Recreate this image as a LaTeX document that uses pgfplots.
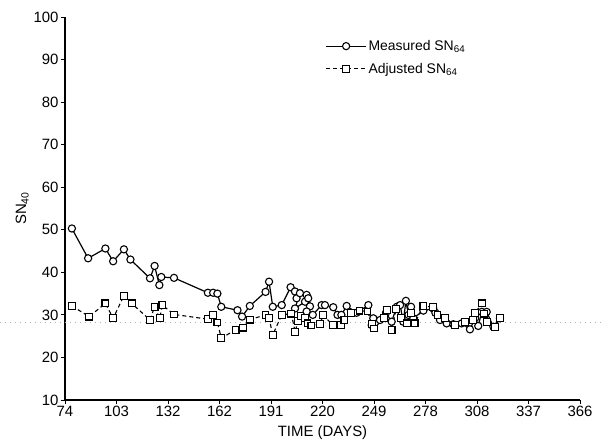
\documentclass[border=0pt]{standalone}
\usepackage{fontspec}
\setmainfont{Liberation Sans}
\usepackage{pgfplots}
\pgfplotsset{compat=1.18}
\usetikzlibrary{calc}

\pgfplotstableread{
day   sn
77.9  50.3
87.1  43.3
96.9  45.6
101.3 42.6
107.4 45.4
111.1 43.0
122.2 38.6
124.8 41.5
127.5 37.0
128.6 38.9
135.8 38.7
155.0 35.2
158.0 35.2
160.4 35.0
162.6 31.9
171.8 31.1
174.4 29.6
178.8 32.1
187.7 35.4
189.7 37.8
191.8 31.9
196.9 32.3
201.9 36.5
204.4 35.5
205.3 33.9
207.2 35.1
204.4 31.5
210.1 33.1
211.0 34.7
211.9 33.9
212.9 32.0
211.0 30.8
214.5 30.0
219.5 32.3
221.4 32.3
226.1 31.8
228.5 30.0
230.7 30.0
233.7 32.1
239.3 30.5
246.0 32.3
247.9 27.6
248.8 29.2
252.6 28.8
256.0 30.5
259.2 28.4
262.1 31.9
264.0 32.3
265.8 28.4
267.3 33.3
268.7 30.0
270.2 31.9
271.5 29.2
277.2 31.0
282.8 31.5
284.0 30.5
286.6 28.8
290.4 28.0
294.2 27.8
298.9 28.0
303.6 26.6
306.5 29.2
308.3 27.4
310.3 30.7
313.1 30.7
316.9 27.2
320.6 29.2
}\measured

\pgfplotstableread{
day   sn
77.9  32.1
87.7  29.6
96.9  32.7
101.3 29.2
107.4 34.5
111.8 32.7
122.2 28.8
124.8 31.9
127.7 29.2
129.2 32.3
135.8 30.1
155.0 29.0
158.0 30.0
160.4 28.2
162.6 24.6
170.7 26.4
175.0 27.0
178.8 28.9
187.7 30.0
189.7 29.2
191.8 25.3
196.9 30.0
202.3 30.3
204.5 26.0
206.0 28.5
207.5 29.8
210.0 29.2
211.5 28.0
213.7 27.5
218.7 27.8
220.2 30.0
225.9 27.6
230.3 27.6
232.4 28.8
236.0 30.5
241.0 31.0
245.5 30.8
248.2 27.8
249.3 26.8
254.7 29.2
256.4 31.1
259.2 26.4
261.7 31.3
264.5 29.2
267.8 28.0
270.0 30.5
272.2 28.0
277.2 32.1
282.8 31.8
285.2 30.0
289.6 29.2
295.1 27.6
300.8 28.4
305.5 28.8
306.6 30.5
310.3 32.7
311.5 30.3
313.1 28.4
317.8 27.1
320.6 29.2
}\adjusted

\begin{document}
\begin{tikzpicture}
  \begin{axis}[
      name=ax,
      width=515bp, height=383bp, scale only axis,
      xmin=74, xmax=366, ymin=10, ymax=100,
      axis x line*=bottom, axis y line*=left,
      axis line style={line width=1.3bp},
      xtick={74,103.2,132.4,161.6,190.8,220,249.2,278.4,307.6,336.8,366},
      xticklabels={74,103,132,162,191,220,249,278,308,337,366},
      ytick={10,20,...,100},
      tick align=outside, major tick length=4bp,
      tick style={black, line width=0.9bp},
      /pgf/number format/assume math mode=true,
      tick label style={font=\fontsize{15}{17}\selectfont},
      xticklabel style={yshift=1bp},
      yticklabel style={xshift=1bp},
      label style={font=\fontsize{15}{17}\selectfont},
      xlabel={TIME (DAYS)}, ylabel={SN\textsubscript{40}},
      xlabel style={yshift=-2bp},
      ylabel style={yshift=-2bp},
      clip=false,
      legend style={draw=none, fill=none, at={(0.50,0.95)}, anchor=north west,
        font=\fontsize{14}{16}\selectfont, row sep=7bp},
      legend cell align=left,
      legend image code/.code={
        \draw[mark repeat=2, mark phase=2, #1]
          plot coordinates {(0cm,0cm) (0.7cm,0cm) (1.4cm,0cm)};
      },
    ]
    \draw[gray!60, dash pattern=on 1bp off 4bp]
      (axis cs:37,28.2) -- (axis cs:378.5,28.2);
    \addplot[black, line width=1.2bp, mark=*, mark size=3.6bp,
      mark options={solid, fill=white, line width=1.1bp}]
      table[x=day, y=sn] {\measured};
    \addlegendentry{Measured SN\textsubscript{64}}
    \addplot[black, line width=1.1bp, dash pattern=on 4bp off 3bp,
      mark=square*, mark size=3.4bp,
      mark options={solid, fill=white, line width=1.1bp}]
      table[x=day, y=sn] {\adjusted};
    \addlegendentry{Adjusted SN\textsubscript{64}}
  \end{axis}
  \pgfresetboundingbox
  \path ($(ax.south west)+(-65bp,-42bp)$) rectangle ($(ax.north east)+(22bp,17bp)$);
\end{tikzpicture}
\end{document}
